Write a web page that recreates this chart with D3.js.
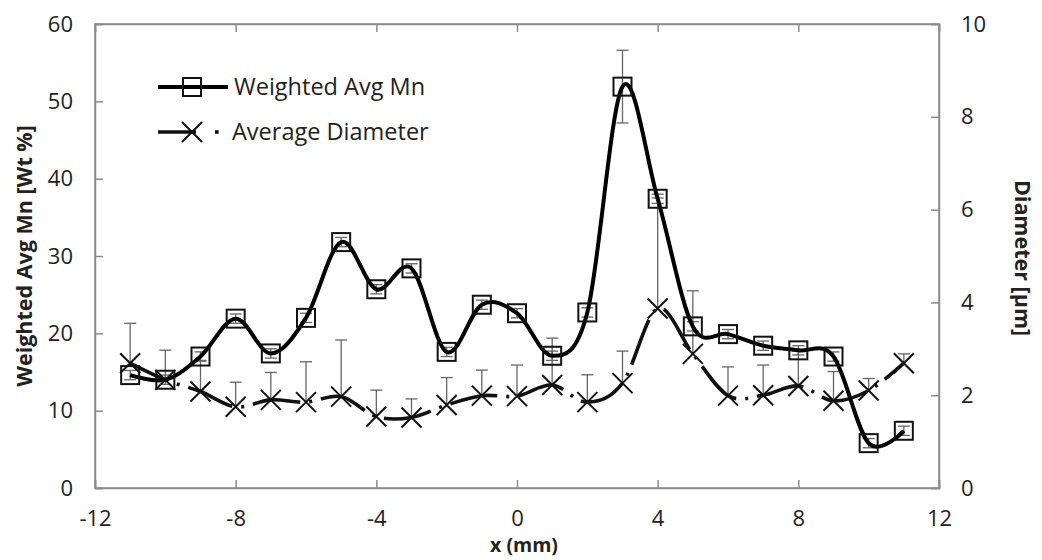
<!DOCTYPE html>
<html>
<head>
<meta charset="utf-8">
<script src="https://cdn.jsdelivr.net/npm/d3@7"></script>
<style>
  html, body { margin: 0; padding: 0; background: #fff; }
  svg { display: block; }
  text { font-family: "Open Sans", "Noto Sans", sans-serif; fill: #222; }
</style>
</head>
<body>
<svg id="chart" width="1042" height="560"></svg>
<script>
// ---- data ----
const xPositions = [-11,-10,-9,-8,-7,-6,-5,-4,-3,-2,-1,0,1,2,3,4,5,6,7,8,9,10,11];
const mnValues   = [14.6,14.0,17.0,21.9,17.4,22.0,31.8,25.7,28.4,17.6,23.7,22.6,17.1,22.7,51.9,37.4,20.9,19.9,18.4,17.8,17.0,5.8,7.4];
const mnErrors   = [0.6,0.6,0.6,0.6,0.6,0.6,0.6,0.6,0.6,0.6,0.6,0.6,0.6,0.6,4.7,0.6,0.6,0.6,0.6,0.6,0.6,0.6,0.6];
const diamValues = [2.69,2.33,2.08,1.75,1.90,1.85,1.97,1.54,1.52,1.79,1.99,1.98,2.22,1.85,2.26,3.87,2.89,1.99,2.00,2.20,1.88,2.10,2.69];
const diamErrPlus= [0.86,0.64,0.67,0.53,0.59,0.87,1.22,0.57,0.40,0.59,0.55,0.67,1.01,0.59,0.69,2.38,1.36,0.62,0.65,0.75,0.63,0.26,0.20];
const xTicks  = [-12,-8,-4,0,4,8,12];
const yTicks  = [0,10,20,30,40,50,60];
const y2Ticks = [0,2,4,6,8,10];
const seriesNames = ["Weighted Avg Mn", "Average Diameter"];
const axisTitles = { x: "x (mm)", y: "Weighted Avg Mn [Wt %]", y2: "Diameter [µm]" };

// ---- layout ----
const svg = d3.select("#chart");
const L = 95, R = 939, T = 24, B = 488;
const x  = d3.scaleLinear().domain([-12, 12]).range([L, R]);
const y  = d3.scaleLinear().domain([0, 60]).range([B, T]);
const y2 = d3.scaleLinear().domain([0, 10]).range([B, T]);
const axisColor = "#8c8c8c";

// frame
svg.append("rect").attr("x", L).attr("y", T).attr("width", R - L).attr("height", B - T)
  .attr("fill", "none").attr("stroke", axisColor).attr("stroke-width", 1.5);

const fmt = d => String(d);
// axes (inward ticks)
const gx = svg.append("g").attr("transform", `translate(0,${B})`)
  .call(d3.axisBottom(x).tickValues(xTicks).tickSize(-8).tickPadding(22).tickFormat(fmt));
const gxTop = svg.append("g").attr("transform", `translate(0,${T})`)
  .call(d3.axisTop(x).tickValues(xTicks).tickSize(-8).tickFormat(""));
const gy = svg.append("g").attr("transform", `translate(${L},0)`)
  .call(d3.axisLeft(y).tickValues(yTicks).tickSize(-8).tickPadding(22).tickFormat(fmt));
const gy2 = svg.append("g").attr("transform", `translate(${R},0)`)
  .call(d3.axisRight(y2).tickValues(y2Ticks).tickSize(-8).tickPadding(22).tickFormat(fmt));
[gx, gxTop, gy, gy2].forEach(g => {
  g.select(".domain").attr("stroke", axisColor).attr("stroke-width", 1.5);
  g.selectAll(".tick line").attr("stroke", axisColor).attr("stroke-width", 1.5);
  g.selectAll(".tick text").style("font-family", '"Open Sans", sans-serif')
    .style("font-size", "22px").attr("fill", "#222");
});

// axis titles
svg.append("text").attr("x", 524).attr("y", 552).attr("text-anchor", "middle")
  .style("font-size", "19.5px").style("font-weight", "bold").text(axisTitles.x);
svg.append("text").attr("transform", `translate(32,256) rotate(-90)`).attr("text-anchor", "middle")
  .style("font-size", "21.5px").style("font-weight", "bold").text(axisTitles.y);
svg.append("text").attr("transform", `translate(1015,258) rotate(90)`).attr("text-anchor", "middle")
  .style("font-size", "21.5px").style("font-weight", "bold").text(axisTitles.y2);

const plot = svg.append("g");
const errColor = "#666";
const capW = 6;

// diameter error bars (plus only)
xPositions.forEach((xv, i) => {
  const top = y2(diamValues[i] + diamErrPlus[i]);
  plot.append("line").attr("x1", x(xv)).attr("x2", x(xv)).attr("y1", y2(diamValues[i])).attr("y2", top)
    .attr("stroke", errColor).attr("stroke-width", 1.3);
  plot.append("line").attr("x1", x(xv) - capW).attr("x2", x(xv) + capW).attr("y1", top).attr("y2", top)
    .attr("stroke", errColor).attr("stroke-width", 1.3);
});
// Mn error bars (plus/minus)
xPositions.forEach((xv, i) => {
  const t = y(mnValues[i] + mnErrors[i]), b = y(mnValues[i] - mnErrors[i]);
  plot.append("line").attr("x1", x(xv)).attr("x2", x(xv)).attr("y1", b).attr("y2", t)
    .attr("stroke", errColor).attr("stroke-width", 1.3);
  [t, b].forEach(v => plot.append("line").attr("x1", x(xv) - capW).attr("x2", x(xv) + capW)
    .attr("y1", v).attr("y2", v).attr("stroke", errColor).attr("stroke-width", 1.3));
});

// lines
const mnLine = d3.line().x((d, i) => x(xPositions[i])).y(d => y(d)).curve(d3.curveCatmullRom.alpha(0));
const diamLine = d3.line().x((d, i) => x(xPositions[i])).y(d => y2(d)).curve(d3.curveCatmullRom.alpha(0));

plot.append("path").attr("d", diamLine(diamValues)).attr("fill", "none")
  .attr("stroke", "#111").attr("stroke-width", 3.6)
  .attr("stroke-dasharray", "48 9 3 9").attr("stroke-dashoffset", 6);
plot.append("path").attr("d", mnLine(mnValues)).attr("fill", "none")
  .attr("stroke", "#000").attr("stroke-width", 4).attr("stroke-linejoin", "round");

// markers
const sq = 18;
function square(g, cx, cy) {
  g.append("rect").attr("x", cx - sq / 2).attr("y", cy - sq / 2).attr("width", sq).attr("height", sq)
    .attr("fill", "none").attr("stroke", "#111").attr("stroke-width", 2);
}
const xs = 10;
function cross(g, cx, cy) {
  g.append("path").attr("d", `M${cx - xs},${cy - xs}L${cx + xs},${cy + xs}M${cx - xs},${cy + xs}L${cx + xs},${cy - xs}`)
    .attr("stroke", "#111").attr("stroke-width", 2).attr("fill", "none");
}
xPositions.forEach((xv, i) => cross(plot, x(xv), y2(diamValues[i])));
xPositions.forEach((xv, i) => square(plot, x(xv), y(mnValues[i])));

// legend
const lg = svg.append("g");
lg.append("line").attr("x1", 158).attr("x2", 228).attr("y1", 87).attr("y2", 87)
  .attr("stroke", "#000").attr("stroke-width", 4);
square(lg, 192, 87);
lg.append("text").attr("x", 234).attr("y", 95).style("font-size", "23.5px").text(seriesNames[0]);
lg.append("line").attr("x1", 158).attr("x2", 196).attr("y1", 132).attr("y2", 132)
  .attr("stroke", "#111").attr("stroke-width", 3.6);
lg.append("rect").attr("x", 215).attr("y", 130.2).attr("width", 3.6).attr("height", 3.6).attr("fill", "#111");
cross(lg, 192, 132);
lg.append("text").attr("x", 232).attr("y", 140).style("font-size", "23.5px").text(seriesNames[1]);
</script>
</body>
</html>
